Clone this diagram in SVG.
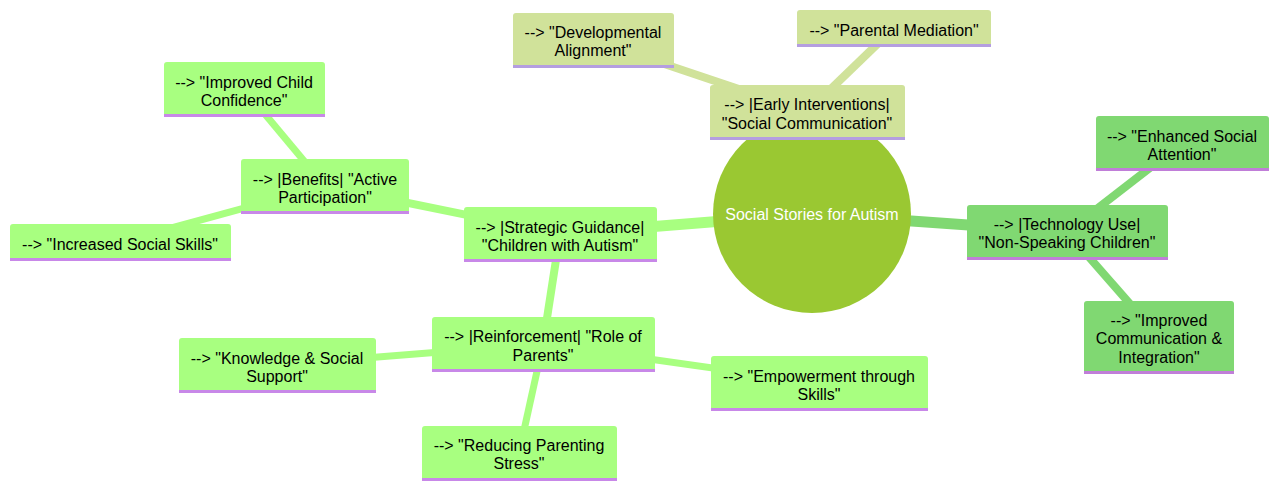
<svg xmlns="http://www.w3.org/2000/svg" width="1280" height="491" viewBox="0 0 1280 491">
<style>
text{font-family:"Liberation Sans",Arial,sans-serif;font-size:16px;text-anchor:middle;dominant-baseline:central;fill:#000}
.s1 rect{fill:#a8ff80}
.s2 rect{fill:#d0e29a}
.s3 rect{fill:#80d872}
.b1{stroke:#c888e8;stroke-width:3}
.b2{stroke:#b49ee0;stroke-width:3}
.b3{stroke:#c07ed8;stroke-width:3}
.e1{stroke:#a8ff80;fill:none;stroke-linecap:butt}
.e2{stroke:#d0e29a;fill:none}
.e3{stroke:#80d872;fill:none}
</style>
<rect width="1280" height="491" fill="#fff"/>
<g id="connectors">
<line class="e1" x1="812" y1="214" x2="560" y2="234" stroke-width="11"/>
<line class="e2" x1="812" y1="214" x2="807" y2="112" stroke-width="11"/>
<line class="e3" x1="812" y1="214" x2="1067" y2="232" stroke-width="11"/>
<line class="e2" x1="807" y1="112" x2="593" y2="40" stroke-width="8"/>
<line class="e2" x1="807" y1="112" x2="894" y2="28" stroke-width="8"/>
<line class="e3" x1="1067" y1="232" x2="1182" y2="143" stroke-width="8"/>
<line class="e3" x1="1067" y1="232" x2="1159" y2="337" stroke-width="8"/>
<line class="e1" x1="560" y1="234" x2="325" y2="186" stroke-width="8"/>
<line class="e1" x1="560" y1="234" x2="543" y2="344" stroke-width="8"/>
<line class="e1" x1="325" y1="186" x2="244" y2="89" stroke-width="7"/>
<line class="e1" x1="325" y1="186" x2="120" y2="242" stroke-width="7"/>
<line class="e1" x1="543" y1="344" x2="277" y2="365" stroke-width="7"/>
<line class="e1" x1="543" y1="344" x2="819" y2="383" stroke-width="7"/>
<line class="e1" x1="543" y1="344" x2="519" y2="453" stroke-width="7"/>
</g>
<g id="root">
<circle cx="812" cy="214" r="99" fill="#9ac832"/>
<text x="812" y="214" style="fill:#fff">Social Stories for Autism</text>
</g>
<g id="early" class="s2">
<rect x="710" y="85" width="195" height="55" rx="3"/>
<line class="b2" x1="710" y1="138.5" x2="905" y2="138.5"/>
<text x="807" y="104">--&gt; |Early Interventions|</text>
<text x="807" y="123">"Social Communication"</text>
</g>
<g id="developmental" class="s2">
<rect x="513" y="13" width="161" height="55" rx="3"/>
<line class="b2" x1="513" y1="66.5" x2="674" y2="66.5"/>
<text x="593" y="32">--&gt; "Developmental</text>
<text x="593" y="50">Alignment"</text>
</g>
<g id="parental" class="s2">
<rect x="797" y="10" width="194" height="37" rx="3"/>
<line class="b2" x1="797" y1="45.5" x2="991" y2="45.5"/>
<text x="894" y="30">--&gt; "Parental Mediation"</text>
</g>
<g id="tech" class="s3">
<rect x="967" y="205" width="201" height="55" rx="3"/>
<line class="b3" x1="967" y1="258.5" x2="1168" y2="258.5"/>
<text x="1067" y="224">--&gt; |Technology Use|</text>
<text x="1067" y="242">"Non-Speaking Children"</text>
</g>
<g id="enhanced" class="s3">
<rect x="1096" y="116" width="173" height="55" rx="3"/>
<line class="b3" x1="1096" y1="169.5" x2="1269" y2="169.5"/>
<text x="1182" y="136">--&gt; "Enhanced Social</text>
<text x="1182" y="154">Attention"</text>
</g>
<g id="improvedcomm" class="s3">
<rect x="1084" y="301" width="150" height="73" rx="3"/>
<line class="b3" x1="1084" y1="372.5" x2="1234" y2="372.5"/>
<text x="1159" y="320">--&gt; "Improved</text>
<text x="1159" y="338">Communication &amp;</text>
<text x="1159" y="357">Integration"</text>
</g>
<g id="strategic" class="s1">
<rect x="464" y="207" width="193" height="55" rx="3"/>
<line class="b1" x1="464" y1="260.5" x2="657" y2="260.5"/>
<text x="560" y="227">--&gt; |Strategic Guidance|</text>
<text x="560" y="245">"Children with Autism"</text>
</g>
<g id="benefits" class="s1">
<rect x="241" y="159" width="168" height="55" rx="3"/>
<line class="b1" x1="241" y1="212.5" x2="409" y2="212.5"/>
<text x="325" y="179">--&gt; |Benefits| "Active</text>
<text x="325" y="197">Participation"</text>
</g>
<g id="confidence" class="s1">
<rect x="164" y="62" width="161" height="55" rx="3"/>
<line class="b1" x1="164" y1="115.5" x2="325" y2="115.5"/>
<text x="244" y="82">--&gt; "Improved Child</text>
<text x="244" y="100">Confidence"</text>
</g>
<g id="increased" class="s1">
<rect x="10" y="224" width="221" height="37" rx="3"/>
<line class="b1" x1="10" y1="259.5" x2="231" y2="259.5"/>
<text x="120" y="244">--&gt; "Increased Social Skills"</text>
</g>
<g id="reinforcement" class="s1">
<rect x="432" y="317" width="223" height="55" rx="3"/>
<line class="b1" x1="432" y1="370.5" x2="655" y2="370.5"/>
<text x="543" y="336">--&gt; |Reinforcement| "Role of</text>
<text x="543" y="355">Parents"</text>
</g>
<g id="knowledge" class="s1">
<rect x="179" y="338" width="197" height="55" rx="3"/>
<line class="b1" x1="179" y1="391.5" x2="376" y2="391.5"/>
<text x="277" y="358">--&gt; "Knowledge &amp; Social</text>
<text x="277" y="376">Support"</text>
</g>
<g id="empowerment" class="s1">
<rect x="711" y="356" width="217" height="55" rx="3"/>
<line class="b1" x1="711" y1="409.5" x2="928" y2="409.5"/>
<text x="819" y="376">--&gt; "Empowerment through</text>
<text x="819" y="394">Skills"</text>
</g>
<g id="reducing" class="s1">
<rect x="422" y="426" width="195" height="55" rx="3"/>
<line class="b1" x1="422" y1="479.5" x2="617" y2="479.5"/>
<text x="519" y="445">--&gt; "Reducing Parenting</text>
<text x="519" y="463">Stress"</text>
</g>
</svg>
